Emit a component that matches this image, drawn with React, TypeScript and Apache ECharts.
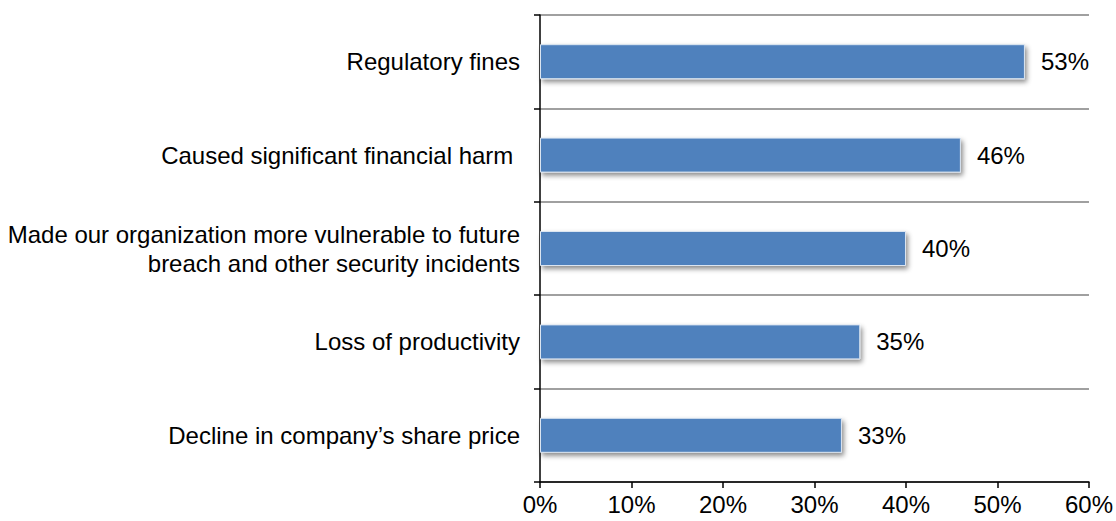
import React, { useEffect, useRef } from "react";
import * as echarts from "echarts";

const categories: string[] = [
  "Decline in company’s share price",
  "Loss of productivity",
  "Made our organization more vulnerable to future\nbreach and other security incidents",
  "Caused significant financial harm ",
  "Regulatory fines",
];
const values: number[] = [33, 35, 40, 46, 53];
const xTicks: number[] = [0, 10, 20, 30, 40, 50, 60];

const FONT = "'Liberation Sans', Arial, sans-serif";

export default function App() {
  const ref = useRef<HTMLDivElement>(null);
  useEffect(() => {
    if (!ref.current) return;
    const chart = echarts.init(ref.current, undefined, { renderer: "svg" });
    chart.setOption({
      animation: false,
      grid: { left: 540, right: 27, top: 15, bottom: 39, containLabel: false },
      xAxis: {
        type: "value",
        min: xTicks[0],
        max: xTicks[xTicks.length - 1],
        interval: 10,
        axisLine: { show: true, lineStyle: { color: "#000", width: 1.5 } },
        axisTick: { show: true, length: 6, lineStyle: { color: "#000", width: 1.5 } },
        axisLabel: {
          formatter: (v: number) => v + "%",
          fontSize: 24,
          fontFamily: FONT,
          color: "#000",
          margin: 10,
        },
        splitLine: { show: false },
      },
      yAxis: {
        type: "category",
        data: categories,
        axisLine: { show: true, lineStyle: { color: "#000", width: 1.5 } },
        axisTick: { show: true, length: 6, lineStyle: { color: "#000", width: 1.5 } },
        axisLabel: {
          fontSize: 24,
          fontFamily: FONT,
          color: "#000",
          margin: 20,
          lineHeight: 29,
          align: "right",
        },
        splitLine: { show: true, lineStyle: { color: "#a0a0a0", width: 2 } },
      },
      series: [
        {
          type: "bar",
          data: values,
          barWidth: 35,
          itemStyle: {
            color: "#4F81BD",
            borderColor: "#dbe5f1",
            borderWidth: 1,
            shadowColor: "rgba(0,0,0,0.45)",
            shadowBlur: 5,
            shadowOffsetX: 2,
            shadowOffsetY: 3,
          },
          label: {
            show: true,
            position: "right",
            distance: 16,
            formatter: (p: any) => p.value + "%",
            fontSize: 24,
            fontFamily: FONT,
            color: "#000",
          },
        },
      ],
    });
    return () => chart.dispose();
  }, []);
  return <div ref={ref} style={{ width: 1116, height: 521, position: "absolute", left: 0, top: 0 }} />;
}
